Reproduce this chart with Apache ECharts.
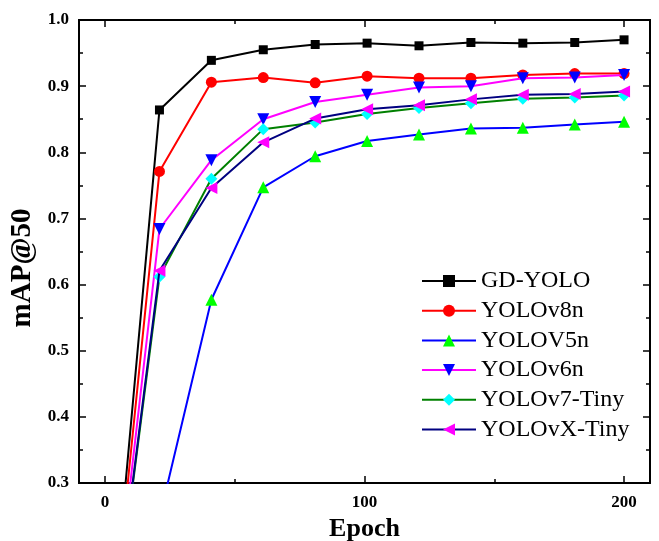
<!DOCTYPE html>
<html>
<head>
<meta charset="utf-8">
<script src="https://cdn.jsdelivr.net/npm/echarts@6/dist/echarts.min.js"></script>
<style>html,body{margin:0;padding:0;background:#fff;}#c{width:659px;height:541px;}</style>
</head>
<body>
<div id="c"></div>
<script>
var epochs = [1, 21, 41, 61, 81, 101, 121, 141, 161, 181, 200];
var seriesNames = ['GD-YOLO', 'YOLOv8n', 'YOLOV5n', 'YOLOv6n', 'YOLOv7-Tiny', 'YOLOvX-Tiny'];
var gdYolo   = [0.0, 0.864, 0.939, 0.955, 0.963, 0.965, 0.961, 0.966, 0.965, 0.966, 0.970];
var yolov8n  = [0.0, 0.771, 0.906, 0.913, 0.905, 0.915, 0.912, 0.912, 0.917, 0.919, 0.919];
var yolov5n  = [0.0, 0.247, 0.577, 0.747, 0.794, 0.817, 0.827, 0.836, 0.837, 0.842, 0.846];
var yolov6n  = [0.0, 0.684, 0.788, 0.850, 0.876, 0.887, 0.898, 0.900, 0.912, 0.913, 0.917];
var yolov7t  = [0.0, 0.612, 0.760, 0.835, 0.845, 0.858, 0.867, 0.874, 0.881, 0.883, 0.886];
var yoloxt   = [0.0, 0.621, 0.746, 0.815, 0.851, 0.865, 0.871, 0.880, 0.887, 0.888, 0.892];
var xMajorTicks = [0, 100, 200];
var xMinorTicks = [50, 150];

var FONT = 'Liberation Serif';
function pairs(vals) { return epochs.map(function (e, i) { return [e, vals[i]]; }); }

var styles = [
  { line: '#000000', mark: '#000000', symbol: 'rect', size: 9, rot: 0 },
  { line: '#ff0000', mark: '#ff0000', symbol: 'circle', size: 11, rot: 0 },
  { line: '#0000ff', mark: '#00ff00', symbol: 'triangle', size: 12, rot: 0 },
  { line: '#ff00ff', mark: '#0000ff', symbol: 'triangle', size: 12, rot: 180 },
  { line: '#008000', mark: '#00ffff', symbol: 'diamond', size: 12, rot: 0 },
  { line: '#000080', mark: '#ff00ff', symbol: 'triangle', size: 12, rot: 90 }
];
var allVals = [gdYolo, yolov8n, yolov5n, yolov6n, yolov7t, yoloxt];

var series = seriesNames.map(function (n, i) {
  var s = styles[i];
  return {
    name: n, type: 'line', data: pairs(allVals[i]),
    symbol: s.symbol, symbolSize: s.size, symbolRotate: s.rot, showSymbol: true,
    itemStyle: { color: s.mark, borderWidth: 0 },
    lineStyle: { color: s.line, width: 2 },
    emphasis: { disabled: true }, clip: true, z: 2 + i
  };
});

function xAx(pos, ticks, len, labels, name) {
  var a = {
    type: 'value', position: pos, min: -10, max: 210,
    axisLine: { show: true, onZero: false, lineStyle: { color: '#000', width: 2 } },
    axisTick: { show: true, inside: true, length: len, customValues: ticks, lineStyle: { color: '#000', width: 1.5 } },
    axisLabel: labels ? { show: true, customValues: ticks, margin: 11, color: '#000', fontFamily: FONT, fontWeight: 'bold', fontSize: 17 } : { show: false },
    splitLine: { show: false }
  };
  if (name) {
    a.name = name; a.nameLocation = 'middle'; a.nameGap = 33;
    a.nameTextStyle = { color: '#000', fontFamily: FONT, fontWeight: 'bold', fontSize: 26 };
  }
  return a;
}
function yAx(pos, labels, name) {
  var a = {
    type: 'value', position: pos, min: 0.3, max: 1.0, interval: 0.1,
    axisLine: { show: true, onZero: false, lineStyle: { color: '#000', width: 2 } },
    axisTick: { show: true, inside: true, length: 7, lineStyle: { color: '#000', width: 1.5 } },
    minorTick: { show: true, splitNumber: 2, length: 4, lineStyle: { color: '#000', width: 1.5 } },
    axisLabel: labels ? { show: true, margin: 10, color: '#000', fontFamily: FONT, fontWeight: 'bold', fontSize: 17, formatter: function (v) { return v.toFixed(1); } } : { show: false },
    splitLine: { show: false }, minorSplitLine: { show: false }
  };
  if (name) {
    a.name = name; a.nameLocation = 'middle'; a.nameGap = 30; a.nameRotate = 90;
    a.nameTextStyle = { color: '#000', fontFamily: FONT, fontWeight: 'bold', fontSize: 29, padding: [0, 33, 0, 0] };
  }
  return a;
}

var option = {
  animation: false,
  backgroundColor: '#fff',
  grid: { left: 79, right: 9, top: 20, bottom: 58, containLabel: false, outerBoundsMode: 'none' },
  xAxis: [
    xAx('bottom', xMajorTicks, 7, true, 'Epoch'),
    xAx('bottom', xMinorTicks, 4, false),
    xAx('top', xMajorTicks, 7, false),
    xAx('top', xMinorTicks, 4, false)
  ],
  yAxis: [
    yAx('left', true, 'mAP@50'),
    yAx('right', false)
  ],
  legend: {
    orient: 'vertical', left: 416, top: 264,
    itemWidth: 54, itemHeight: 15, itemGap: 5.7,
    textStyle: { color: '#000', fontFamily: FONT, fontSize: 24, lineHeight: 23 },
    data: seriesNames
  },
  series: series
};
var chart = echarts.init(document.getElementById('c'), null, { renderer: 'canvas' });
chart.setOption(option);
</script>
</body>
</html>
